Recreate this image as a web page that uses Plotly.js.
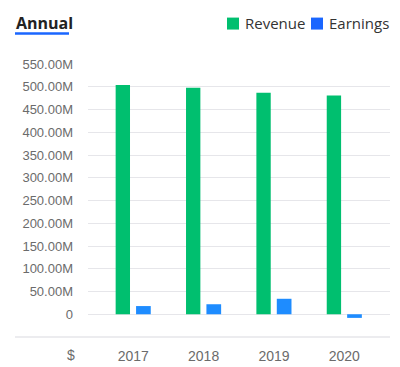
<!DOCTYPE html>
<html>
<head>
<meta charset="utf-8">
<script src="https://cdn.plot.ly/plotly-3.0.1.min.js"></script>
<style>html,body{margin:0;padding:0;background:#fff;}#chart{width:400px;height:367px;}</style>
</head>
<body>
<div id="chart"></div>
<script>
// Data (values in millions of $)
const years = ['2017', '2018', '2019', '2020'];
const revenue = [504, 498, 487, 481];
const earnings = [18, 22, 34, -8];
const yTickVals = [0, 50, 100, 150, 200, 250, 300, 350, 400, 450, 500, 550];
const yTickText = ['0', '50.00M', '100.00M', '150.00M', '200.00M', '250.00M', '300.00M', '350.00M', '400.00M', '450.00M', '500.00M', '550.00M'];

const W = 400, H = 367;
const L = 88, R = 10, T = 63.5, B = 30;
const xp = px => (px - L) / (W - L - R);
const yp = py => (H - B - py) / (H - T - B);

const traces = [
  {type: 'bar', name: 'Revenue', x: years, y: revenue, marker: {color: '#00BF6F'},
   offset: -0.25, width: 0.204, hoverinfo: 'none'},
  {type: 'bar', name: 'Earnings', x: years, y: earnings, marker: {color: '#1E8CFF'},
   offset: 0.04, width: 0.209, hoverinfo: 'none'}
];

const layout = {
  width: W, height: H,
  margin: {l: L, r: R, t: T, b: B, pad: 0},
  paper_bgcolor: '#fff', plot_bgcolor: '#fff',
  showlegend: false,
  barmode: 'overlay',
  font: {family: 'Liberation Sans, Arial, sans-serif', color: '#666'},
  xaxis: {type: 'category', range: [-0.643, 3.649], showgrid: false, zeroline: false,
    showline: false, ticks: 'outside', ticklen: 6, tickcolor: 'rgba(0,0,0,0)',
    tickfont: {size: 14, color: '#6b6b6b'}, fixedrange: true},
  yaxis: {range: [-50, 550], tickvals: yTickVals, ticktext: yTickText,
    showgrid: true, gridcolor: '#e6e6ea', gridwidth: 1, zeroline: false,
    ticks: '', ticklabelstandoff: 14, tickfont: {size: 13, color: '#6b6b6b'}, fixedrange: true},
  shapes: [
    {type: 'line', xref: 'paper', yref: 'paper', x0: xp(15), x1: xp(390), y0: yp(337), y1: yp(337),
     line: {color: '#e6e6ea', width: 1.5}},
    {type: 'line', xref: 'paper', yref: 'paper', x0: xp(15), x1: xp(69), y0: yp(33), y1: yp(33),
     line: {color: '#1A66FF', width: 2.5}},
    {type: 'rect', xref: 'paper', yref: 'paper', x0: xp(227), x1: xp(239), y0: yp(29), y1: yp(17),
     line: {width: 0}, fillcolor: '#00BF6F'},
    {type: 'rect', xref: 'paper', yref: 'paper', x0: xp(311), x1: xp(323), y0: yp(29), y1: yp(17),
     line: {width: 0}, fillcolor: '#1A66FF'}
  ],
  annotations: [
    {text: '<b>Annual</b>', xref: 'paper', yref: 'paper', x: xp(14), y: yp(22.5), xanchor: 'left', yanchor: 'middle',
     showarrow: false, font: {family: 'Open Sans, sans-serif', size: 16, color: '#222'}},
    {text: 'Revenue', xref: 'paper', yref: 'paper', x: xp(243), y: yp(22.5), xanchor: 'left', yanchor: 'middle',
     showarrow: false, font: {family: 'Open Sans, sans-serif', size: 15, color: '#333'}},
    {text: 'Earnings', xref: 'paper', yref: 'paper', x: xp(327), y: yp(22.5), xanchor: 'left', yanchor: 'middle',
     showarrow: false, font: {family: 'Open Sans, sans-serif', size: 15, color: '#333'}},
    {text: '$', xref: 'paper', yref: 'paper', x: xp(71), y: yp(355), xanchor: 'center', yanchor: 'middle',
     showarrow: false, font: {family: 'Liberation Sans, Arial, sans-serif', size: 14, color: '#6b6b6b'}}
  ]
};

Plotly.newPlot('chart', traces, layout, {displayModeBar: false, staticPlot: true});
</script>
</body>
</html>
